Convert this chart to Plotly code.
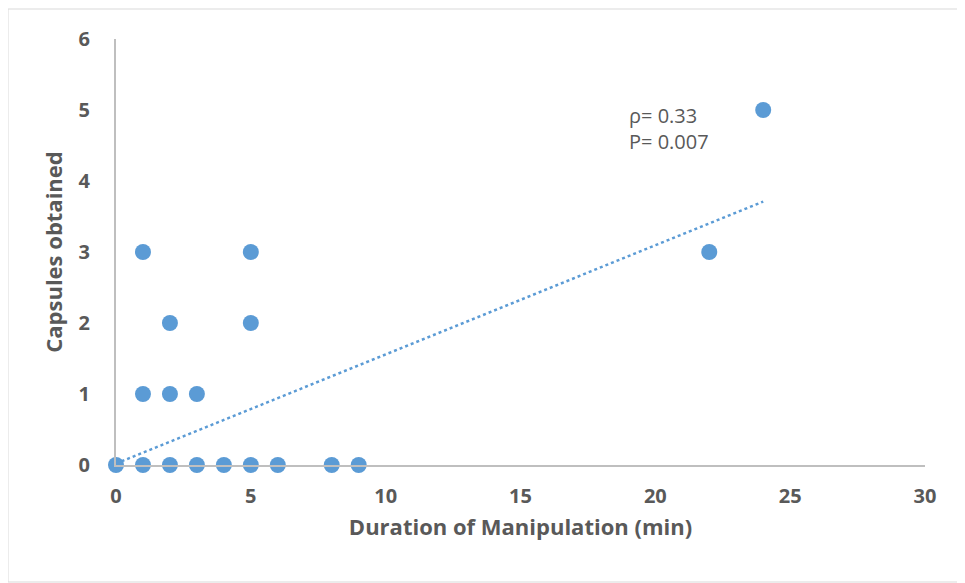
import plotly.graph_objects as go

# Data
duration_min = [0, 1, 2, 3, 4, 5, 6, 8, 9, 1, 2, 3, 2, 5, 1, 5, 22, 24]
capsules = [0, 0, 0, 0, 0, 0, 0, 0, 0, 1, 1, 1, 2, 2, 3, 3, 3, 5]

# Linear trendline endpoints (as drawn)
trend_x = [0, 24]
trend_y = [0.02, 3.71]

x_ticks = [0, 5, 10, 15, 20, 25, 30]
y_ticks = [0, 1, 2, 3, 4, 5, 6]

stats_text = "ρ= 0.33<br>P= 0.007"

blue = "#5B9BD5"
grey_text = "#595959"
axis_grey = "#BFBFBF"
font_family = "'Open Sans', sans-serif"

fig = go.Figure()
fig.add_trace(go.Scatter(
    x=trend_x, y=trend_y, mode="lines",
    line=dict(color=blue, width=2.5, dash="dot"),
    hoverinfo="skip", showlegend=False, cliponaxis=False,
))
fig.add_trace(go.Scatter(
    x=duration_min, y=capsules, mode="markers",
    marker=dict(color=blue, size=16, line=dict(width=0)),
    showlegend=False, cliponaxis=False,
))

OFF = 7  # page offset of the figure
L, T = 115 - OFF, 38 - OFF
W, H = 965, 583
R = W - (924 - OFF)
B = H - (464 - OFF)
pw, ph = W - L - R, H - T - B

def px_x(p):
    return (p - OFF - L) / pw

def px_y(p):
    return (T + ph - (p - OFF)) / ph

fig.update_layout(
    width=W, height=H,
    margin=dict(l=L, r=R, t=T, b=B, autoexpand=False),
    paper_bgcolor="white", plot_bgcolor="white",
    font=dict(family=font_family, color=grey_text),
    xaxis=dict(
        range=[0, 30], tickvals=x_ticks, showgrid=False, zeroline=False,
        showline=True, linecolor=axis_grey, linewidth=2,
        ticks="", tickfont=dict(size=20, family=font_family, color=grey_text, weight="bold"),
        ticklabelstandoff=12,
        title=dict(text="<b>Duration of Manipulation (min)</b>",
                   font=dict(size=22, family=font_family, color=grey_text), standoff=12),
    ),
    yaxis=dict(
        range=[0, 6], tickvals=y_ticks, showgrid=False, zeroline=False,
        showline=True, linecolor=axis_grey, linewidth=2,
        ticks="", tickfont=dict(size=20, family=font_family, color=grey_text, weight="bold"),
        ticklabelstandoff=20,
        title=dict(text="<b>Capsules obtained</b>",
                   font=dict(size=22, family=font_family, color=grey_text), standoff=10),
    ),
    annotations=[dict(
        x=px_x(626), y=px_y(127), xref="paper", yref="paper",
        xanchor="left", yanchor="middle", align="left", showarrow=False,
        text=stats_text, font=dict(size=20, family=font_family, color=grey_text),
    )],
    shapes=[dict(
        type="rect", xref="paper", yref="paper", layer="below",
        x0=px_x(7), x1=px_x(990),
        y0=px_y(581), y1=px_y(8),
        line=dict(color="#D9D9D9", width=1), fillcolor="rgba(0,0,0,0)",
    )],
)

fig.write_html("out.html")
